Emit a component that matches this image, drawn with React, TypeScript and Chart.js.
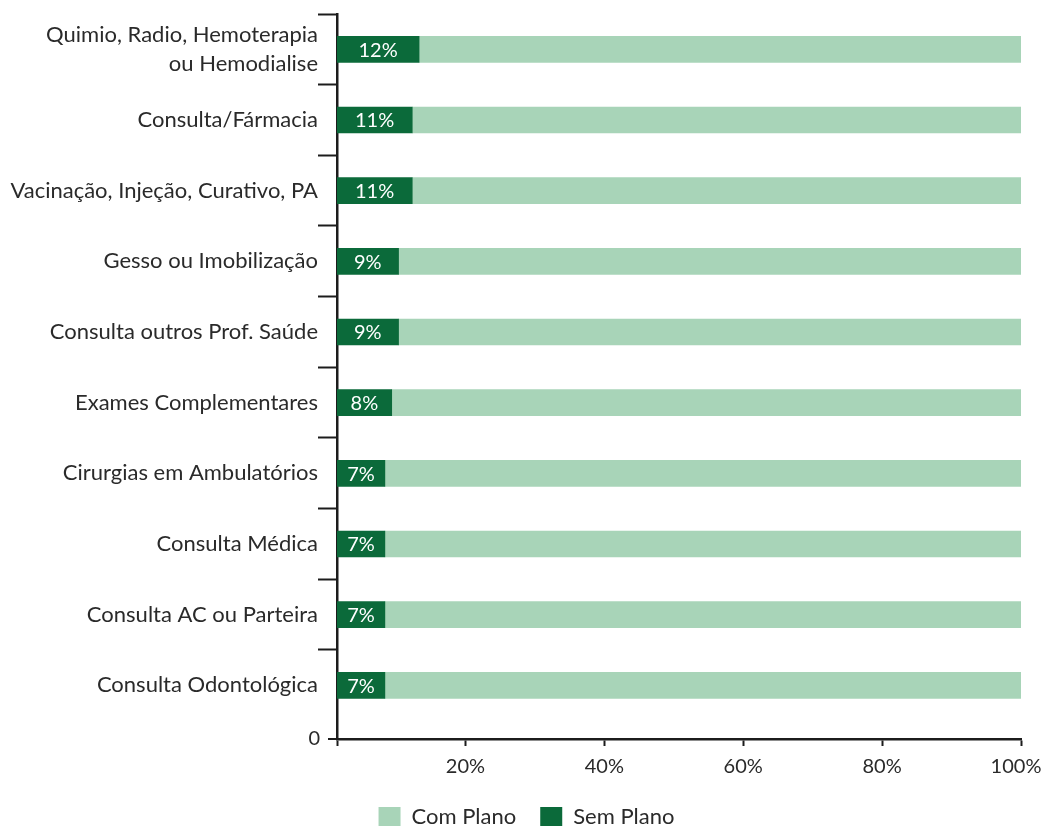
import React, { useEffect, useRef } from "react";
import { Chart, registerables } from "chart.js";

Chart.register(...registerables);

const categories: (string | string[])[] = [
  ["Quimio, Radio, Hemoterapia", "ou Hemodialise"],
  "Consulta/Fármacia",
  "Vacinação, Injeção, Curativo, PA",
  "Gesso ou Imobilização",
  "Consulta outros Prof. Saúde",
  "Exames Complementares",
  "Cirurgias em Ambulatórios",
  "Consulta Médica",
  "Consulta AC ou Parteira",
  "Consulta Odontológica",
];
const semPlano = [12, 11, 11, 9, 9, 8, 7, 7, 7, 7];
const comPlano = [88, 89, 89, 91, 91, 92, 93, 93, 93, 93];
const xTickValues = [20, 40, 60, 80, 100];
const xAxisStart = 1.5;
const yAxisZeroLabel = "0";
const seriesNames = ["Sem Plano", "Com Plano"];

const DARK = "#0b6a3a";
const LIGHT = "#a8d4b8";
const AXIS = "#1c1c1c";
const TEXT = "#2a2a2a";
const FONT = "Lato";

const barLabels = {
  id: "barLabels",
  afterDatasetsDraw(chart: any) {
    const ctx = chart.ctx;
    const meta = chart.getDatasetMeta(0);
    ctx.save();
    ctx.fillStyle = "#ffffff";
    ctx.font = `20px ${FONT}`;
    ctx.textAlign = "center";
    ctx.textBaseline = "middle";
    meta.data.forEach((el: any, i: number) => {
      const p = el.getProps(["x", "y", "base"], true);
      ctx.fillText(`${semPlano[i]}%`, (p.x + p.base) / 2, p.y + 1);
    });
    ctx.restore();
  },
};

const zeroLabel = {
  id: "zeroLabel",
  afterDraw(chart: any) {
    const { ctx, chartArea } = chart;
    ctx.save();
    ctx.strokeStyle = AXIS;
    ctx.lineWidth = 2;
    ctx.beginPath();
    ctx.moveTo(chartArea.left - 9, chartArea.bottom);
    ctx.lineTo(chartArea.left, chartArea.bottom);
    ctx.stroke();
    ctx.fillStyle = TEXT;
    ctx.font = `20px ${FONT}`;
    ctx.textAlign = "right";
    ctx.textBaseline = "middle";
    ctx.fillText(yAxisZeroLabel, chartArea.left - 17, chartArea.bottom);
    ctx.restore();
  },
};

const legendShift = {
  id: "legendShift",
  afterLayout(chart: any) {
    if (chart.legend) {
      chart.legend.left += 16;
      chart.legend.right += 16;
    }
  },
};

export default function App() {
  const ref = useRef<HTMLCanvasElement | null>(null);

  useEffect(() => {
    document.body.style.margin = "0";
    const canvas = ref.current;
    if (!canvas) return;
    const chart = new Chart(canvas, {
      type: "bar",
      data: {
        datasets: [
          {
            label: seriesNames[0],
            data: semPlano.map((v, i) => ({ x: v, y: i })),
            backgroundColor: DARK,
            borderWidth: 0,
            barThickness: 26,
          },
          {
            label: seriesNames[1],
            data: comPlano.map((v, i) => ({ x: v, y: i })),
            backgroundColor: LIGHT,
            borderWidth: 0,
            barThickness: 26,
          },
        ],
      } as any,
      options: {
        animation: false,
        responsive: true,
        maintainAspectRatio: false,
        indexAxis: "y",
        layout: { padding: { top: 14, right: 23, bottom: -12, left: 0 } },
        plugins: {
          legend: {
            position: "bottom",
            reverse: true,
            labels: {
              boxWidth: 22,
              boxHeight: 20,
              padding: 24,
              color: TEXT,
              font: { family: FONT, size: 22 },
            },
          },
          tooltip: { enabled: false },
        },
        scales: {
          x: {
            type: "linear",
            min: 0,
            max: 100,
            stacked: true,
            display: false,
          },
          xTicks: {
            type: "linear",
            position: "bottom",
            min: xAxisStart,
            max: 100,
            afterBuildTicks: (s: any) => {
              s.ticks = [xAxisStart, ...xTickValues].map((v) => ({ value: v }));
            },
            afterFit: (s: any) => {
              s.height = 43;
              s.paddingLeft = 0;
              s.paddingRight = 0;
            },
            grid: {
              display: true,
              drawOnChartArea: false,
              drawTicks: true,
              tickLength: 7,
              tickWidth: 2,
              tickColor: AXIS,
            },
            border: { display: true, color: AXIS, width: 2.5 },
            ticks: {
              padding: 9,
              color: TEXT,
              font: { family: FONT, size: 20 },
              maxRotation: 0,
              autoSkip: false,
              callback: (v: any) =>
                v === xAxisStart ? "" : v === 100 ? `${v}%\u2002` : `${v}%`,
            },
          },
          y: {
            type: "linear",
            reverse: true,
            stacked: true,
            offset: false,
            min: -0.5,
            max: 9.76,
            afterBuildTicks: (s: any) => {
              s.ticks = categories.map((_, i) => ({ value: i }));
            },
            afterFit: (s: any) => {
              s.width = 337;
              s.paddingTop = 0;
              s.paddingBottom = 0;
            },
            grid: {
              display: true,
              offset: true,
              drawOnChartArea: false,
              drawTicks: true,
              tickLength: 19,
              tickWidth: 2,
              tickColor: (c: any) =>
                c.index === undefined ? "rgba(0,0,0,0)" : AXIS,
            },
            border: { display: true, color: AXIS, width: 2.5 },
            ticks: {
              padding: 0,
              color: TEXT,
              autoSkip: false,
              font: { family: FONT, size: 22, lineHeight: 1.3 },
              callback: (v: any) => categories[Math.round(v)] ?? "",
            },
          },
        },
      } as any,
      plugins: [barLabels, zeroLabel, legendShift],
    });
    return () => chart.destroy();
  }, []);

  return (
    <div style={{ width: 1044, height: 826, position: "relative" }}>
      <canvas ref={ref} />
    </div>
  );
}
